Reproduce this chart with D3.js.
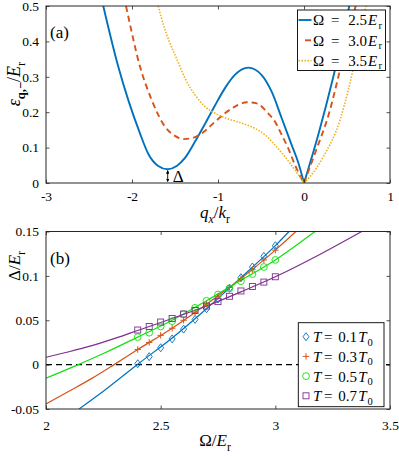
<!DOCTYPE html>
<html><head><meta charset="utf-8">
<script src="https://cdn.jsdelivr.net/npm/d3@7"></script>
<style>
body{margin:0;background:#fff;}
svg text{font-family:"Liberation Serif","Times New Roman",serif !important;fill:#000;}
</style></head>
<body><svg id="c" width="399" height="457"></svg>
<script>
// ---------- Panel (a) data ----------
const aXTicks = [-3, -2, -1, 0, 1];
const aYTicks = [0, 0.1, 0.2, 0.3, 0.4, 0.5];
const aSeriesNames = ["2.5", "3.0", "3.5"];
const q25 = [-2.40, -2.334, -2.16, -2.043, -1.907, -1.81, -1.70, -1.585, -1.48, -1.384, -1.267, -1.151, -1.035, -0.919, -0.802, -0.648, -0.492, -0.376, -0.259, -0.143, -0.066, 0, 0.17, 0.341, 0.527, 0.57];
const e25 = [0.57, 0.5, 0.329, 0.234, 0.140, 0.082, 0.049, 0.039, 0.048, 0.071, 0.117, 0.167, 0.219, 0.268, 0.306, 0.326, 0.305, 0.258, 0.183, 0.107, 0.057, 0, 0.14, 0.30, 0.5, 0.55];
const q30 = [-2.12, -2.07, -1.907, -1.77, -1.616, -1.50, -1.40, -1.30, -1.19, -1.035, -0.919, -0.802, -0.666, -0.55, -0.434, -0.337, -0.259, -0.183, -0.105, -0.02, 0, 0.128, 0.302, 0.419, 0.60, 0.65];
const e30 = [0.555, 0.5, 0.329, 0.234, 0.159, 0.133, 0.124, 0.127, 0.140, 0.173, 0.197, 0.216, 0.228, 0.225, 0.201, 0.173, 0.136, 0.098, 0.051, 0.008, 0, 0.084, 0.206, 0.32, 0.5, 0.55];
const q35 = [-1.74, -1.694, -1.442, -1.384, -1.267, -1.151, -1.035, -0.88, -0.724, -0.570, -0.453, -0.337, -0.221, -0.105, 0, 0.07, 0.224, 0.419, 0.515, 0.72, 0.76];
const e35 = [0.55, 0.5, 0.329, 0.296, 0.249, 0.216, 0.197, 0.181, 0.169, 0.154, 0.136, 0.107, 0.074, 0.037, 0, 0.018, 0.074, 0.178, 0.263, 0.5, 0.55];

// ---------- Panel (b) data ----------
const bXTicks = [2, 2.5, 3, 3.5];
const bYTicks = [-0.05, 0, 0.05, 0.1, 0.15];
const tempNames = ["0.1", "0.3", "0.5", "0.7"];
const markOmega = [2.4, 2.45, 2.5, 2.55, 2.6, 2.65, 2.7, 2.75, 2.8, 2.85, 2.9, 2.95, 3.0];
const mark01 = [0.001, 0.009, 0.019, 0.029, 0.040, 0.051, 0.063, 0.074, 0.086, 0.098, 0.110, 0.122, 0.134];
const mark03 = [0.017, 0.025, 0.033, 0.041, 0.050, 0.059, 0.068, 0.077, 0.087, 0.097, 0.107, 0.118, 0.129];
const mark05 = [0.031, 0.036, 0.043, 0.049, 0.057, 0.064, 0.072, 0.079, 0.086, 0.094, 0.102, 0.110, 0.118];
const mark07 = [0.039, 0.043, 0.048, 0.052, 0.057, 0.061, 0.066, 0.071, 0.077, 0.083, 0.088, 0.093, 0.099];
const fitW01 = [2.144, 2.25, 2.4, 2.55, 2.7, 2.85, 3.0, 3.06];
const fitD01 = [-0.05, -0.030, 0.0005, 0.030, 0.063, 0.098, 0.134, 0.15];
const fitW03 = [2.0, 2.1, 2.2, 2.297, 2.4, 2.55, 2.7, 2.85, 3.0, 3.09];
const fitD03 = [-0.0443, -0.030, -0.0155, 0, 0.017, 0.041, 0.068, 0.097, 0.129, 0.15];
const fitW05 = [2.0, 2.141, 2.25, 2.4, 2.55, 2.7, 2.85, 3.0, 3.173];
const fitD05 = [-0.0153, 0, 0.0125, 0.031, 0.050, 0.072, 0.095, 0.118, 0.15];
const fitW07 = [2.0, 2.1, 2.2, 2.3, 2.4, 2.55, 2.7, 2.85, 3.0, 3.2, 3.377];
const fitD07 = [0.0083, 0.0145, 0.0214, 0.0295, 0.0385, 0.052, 0.066, 0.082, 0.099, 0.125, 0.15];

const colA = ["#0072BD", "#D95319", "#EDB120"];
const colB = ["#0072BD", "#D95319", "#11e011", "#7E2F8E"];

const svg = d3.select("#c");
const FONT = '"Liberation Serif","Times New Roman",serif';
const fmt = d => String(d).replace("\u2212", "-");

function mathText(g, segs, size) {
  const t = g.append("text").attr("font-size", size);
  let sub = false;
  segs.forEach(([s, st = ""]) => {
    const ts = t.append("tspan").text(s);
    if (st.includes("i")) ts.attr("font-style", "italic");
    if (st.includes("b")) ts.attr("font-weight", "bold");
    const isSub = st.includes("s");
    if (isSub && !sub) ts.attr("dy", size * 0.3);
    if (!isSub && sub) ts.attr("dy", -size * 0.3);
    if (isSub) ts.attr("font-size", size * 0.7);
    sub = isSub;
  });
  return t;
}

function frameAxes(g, x, y, xt, yt, padX) {
  const [x0, x1] = x.range(), [y0, y1] = y.range();
  const ax = g.append("g").attr("transform", `translate(0,${y0})`)
    .call(d3.axisBottom(x).tickValues(xt).tickSize(-3.5).tickPadding(padX).tickFormat(fmt));
  const ay = g.append("g").attr("transform", `translate(${x0},0)`)
    .call(d3.axisLeft(y).tickValues(yt).tickSize(-3.5).tickPadding(7).tickFormat(fmt));
  const at = g.append("g").attr("transform", `translate(0,${y1})`)
    .call(d3.axisTop(x).tickValues(xt).tickSize(-3.5).tickFormat(""));
  const ar = g.append("g").attr("transform", `translate(${x1},0)`)
    .call(d3.axisRight(y).tickValues(yt).tickSize(-3.5).tickFormat(""));
  [ax, ay, at, ar].forEach(a => {
    a.attr("font-family", FONT);
    a.select(".domain").remove();
    a.selectAll("line").attr("stroke", "#262626").attr("stroke-width", 0.8);
    a.selectAll("text").attr("font-size", 13.5).attr("fill", "#000");
  });
  g.append("rect").attr("x", x0).attr("y", y1).attr("width", x1 - x0).attr("height", y0 - y1)
    .attr("fill", "none").attr("stroke", "#262626").attr("stroke-width", 1);
}

// ================= Panel (a) =================
const xa = d3.scaleLinear().domain([-3, 1]).range([46, 390]);
const ya = d3.scaleLinear().domain([0, 0.5]).range([183, 6]);
const ga = svg.append("g");
svg.append("clipPath").attr("id", "clipA").append("rect")
  .attr("x", 46).attr("y", 6).attr("width", 344).attr("height", 177);

const curvesA = [[q25, e25], [q30, e30], [q35, e35]];
const dashA = [null, "6,4", "1.5,1.5"];
const lineA = d3.line().x(d => xa(d[0])).y(d => ya(d[1])).curve(d3.curveMonotoneX);
const plotA = ga.append("g").attr("clip-path", "url(#clipA)");
curvesA.forEach(([qs, es], k) => {
  const pts = qs.map((q, i) => [q, es[i]]);
  const left = pts.filter(p => p[0] <= 0), right = pts.filter(p => p[0] >= 0);
  const path = plotA.append("path").attr("fill", "none").attr("stroke", colA[k])
    .attr("stroke-width", k === 2 ? 1.6 : 1.9)
    .attr("d", lineA(left) + lineA(right));
  if (dashA[k]) path.attr("stroke-dasharray", dashA[k]);
});
frameAxes(ga, xa, ya, aXTicks, aYTicks, 8);

// Delta annotation
const qMin = q25[7], eMin = e25[7];
svg.append("defs").html(
  '<marker id="ah" viewBox="0 0 6 6" refX="5" refY="3" markerWidth="4" markerHeight="4" orient="auto-start-reverse"><path d="M0,0 L6,3 L0,6 z" fill="#000"/></marker>');
ga.append("line").attr("x1", xa(qMin)).attr("x2", xa(qMin))
  .attr("y1", ya(eMin) + 1.5).attr("y2", ya(0) - 1.5)
  .attr("stroke", "#000").attr("stroke-width", 0.9)
  .attr("marker-start", "url(#ah)").attr("marker-end", "url(#ah)");
ga.append("text").attr("x", xa(qMin) + 5).attr("y", 181.5).attr("font-size", 17).text("Δ");

ga.append("text").attr("x", 50).attr("y", 38).attr("font-size", 17).text("(a)");
mathText(ga, [["q", "i"], ["x", "is"], ["/"], ["k", "i"], ["r", "s"]], 17)
  .attr("x", 215).attr("y", 218).attr("text-anchor", "middle");
mathText(ga.append("g").attr("transform", "translate(20,84) rotate(-90)"),
  [["ε", "i"], ["q,−", "sb"], ["/"], ["E", "i"], ["r", "s"]], 18).attr("text-anchor", "middle");

// legend (a)
const lgA = ga.append("g");
lgA.append("rect").attr("x", 297.5).attr("y", 10).attr("width", 88).attr("height", 60.5)
  .attr("fill", "#fff").attr("stroke", "#000").attr("stroke-width", 0.9);
aSeriesNames.forEach((nm, k) => {
  const cy = 20 + k * 20.3;
  const ln = lgA.append("line").attr("x1", 298.5).attr("x2", 311.5).attr("y1", cy).attr("y2", cy)
    .attr("stroke", colA[k]).attr("stroke-width", k === 2 ? 1.6 : 1.9);
  if (k === 1) ln.attr("x1", 305).attr("stroke-dasharray", "6,4");
  if (k === 2) ln.attr("stroke-dasharray", "1.5,1.5");
  const t = lgA.append("text").attr("y", cy + 5.2).attr("font-size", 15);
  t.append("tspan").attr("x", 313).text("Ω");
  t.append("tspan").attr("x", 331).text("=");
  t.append("tspan").attr("x", 348.3).text(nm);
  t.append("tspan").attr("x", 368).attr("font-style", "italic").text("E");
  t.append("tspan").attr("x", 378.5).attr("dy", 3.5).attr("font-size", 10.5).text("r");
});

// ================= Panel (b) =================
const xb = d3.scaleLinear().domain([2, 3.5]).range([46, 390]);
const yb = d3.scaleLinear().domain([-0.05, 0.15]).range([409, 231.5]);
const gb = svg.append("g");
svg.append("clipPath").attr("id", "clipB").append("rect")
  .attr("x", 46).attr("y", 231.5).attr("width", 344).attr("height", 177.5);
const plotB = gb.append("g").attr("clip-path", "url(#clipB)");
plotB.append("line").attr("x1", xb(2)).attr("x2", xb(3.5)).attr("y1", yb(0)).attr("y2", yb(0))
  .attr("stroke", "#000").attr("stroke-width", 1.2).attr("stroke-dasharray", "6,4");

const fitsB = [[fitW01, fitD01], [fitW03, fitD03], [fitW05, fitD05], [fitW07, fitD07]];
const marksB = [mark01, mark03, mark05, mark07];
const lineB = d3.line().x(d => xb(d[0])).y(d => yb(d[1])).curve(d3.curveMonotoneX);
fitsB.forEach(([ws, ds], k) => {
  plotB.append("path").attr("fill", "none").attr("stroke", colB[k]).attr("stroke-width", 1.2)
    .attr("d", lineB(ws.map((w, i) => [w, ds[i]])));
});
function marker(g, k, cx, cy) {
  const c = colB[k];
  if (k === 0) g.append("path").attr("d", `M${cx},${cy - 4}L${cx + 3},${cy}L${cx},${cy + 4}L${cx - 3},${cy}Z`)
    .attr("fill", "none").attr("stroke", c).attr("stroke-width", 0.9);
  if (k === 1) g.append("path").attr("d", `M${cx - 3.2},${cy}H${cx + 3.2}M${cx},${cy - 3.2}V${cy + 3.2}`)
    .attr("stroke", c).attr("stroke-width", 1);
  if (k === 2) g.append("circle").attr("cx", cx).attr("cy", cy).attr("r", 3.4)
    .attr("fill", "none").attr("stroke", c).attr("stroke-width", 0.9);
  if (k === 3) g.append("rect").attr("x", cx - 3).attr("y", cy - 3).attr("width", 6).attr("height", 6)
    .attr("fill", "none").attr("stroke", c).attr("stroke-width", 0.9);
}
marksB.forEach((ms, k) => {
  ms.forEach((d, i) => marker(plotB, k, xb(markOmega[i]), yb(d)));
});
frameAxes(gb, xb, yb, bXTicks, bYTicks, 11);

gb.append("text").attr("x", 50).attr("y", 263.5).attr("font-size", 17).text("(b)");
mathText(gb, [["Ω"], ["/"], ["E", "i"], ["r", "s"]], 17)
  .attr("x", 215).attr("y", 446).attr("text-anchor", "middle");
mathText(gb.append("g").attr("transform", "translate(20,266) rotate(-90)"),
  [["Δ"], ["/"], ["E", "i"], ["r", "s"]], 17).attr("text-anchor", "middle");

// legend (b)
const lgB = gb.append("g");
lgB.append("rect").attr("x", 298.3).attr("y", 322.7).attr("width", 85.7).attr("height", 84)
  .attr("fill", "#fff").attr("stroke", "#000").attr("stroke-width", 0.9);
tempNames.forEach((nm, k) => {
  const cy = 336.7 + k * 19.7;
  marker(lgB, k, 306, cy);
  const t = lgB.append("text").attr("y", cy + 5.5).attr("font-size", 15);
  t.append("tspan").attr("x", 313).attr("font-style", "italic").text("T");
  t.append("tspan").attr("x", 324).text("=");
  t.append("tspan").attr("x", 338.3).text(nm);
  t.append("tspan").attr("x", 358.3).attr("font-style", "italic").text("T");
  t.append("tspan").attr("x", 367.5).attr("dy", 3.5).attr("font-size", 10.5).text("0");
});
</script></body></html>
